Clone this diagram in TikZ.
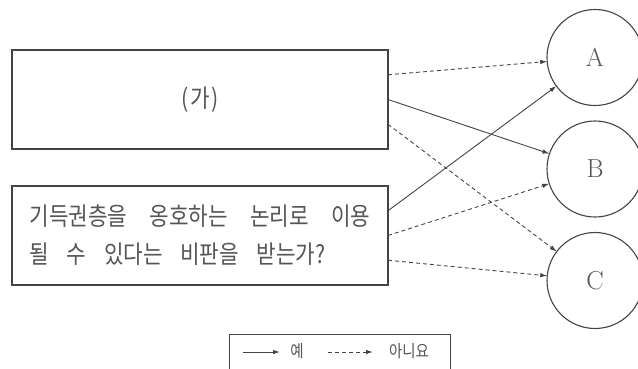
\documentclass[tikz,border=0pt]{standalone}
\usepackage{fontspec}
\newfontfamily\kr[FakeStretch=0.85]{Noto Sans CJK KR}
\usetikzlibrary{arrows.meta}
\definecolor{inkgray}{HTML}{444444}
\definecolor{textgray}{HTML}{555555}
\begin{document}
\begin{tikzpicture}[x=1pt,y=-1pt,
  every node/.style={outer sep=0pt, text=textgray},
  box/.style={draw=inkgray, line width=1.2pt, minimum width=376pt, minimum height=99pt, inner sep=0pt},
  choice/.style={draw=inkgray, line width=1.1pt, circle, minimum size=96pt, inner sep=0pt, font=\fontsize{26}{28}\selectfont},
  yes/.style={draw=inkgray, line width=0.9pt, -{Latex[length=7pt,width=4.5pt]}},
  no/.style={yes, dash pattern=on 4pt off 3pt}]
\useasboundingbox (0,0) rectangle (638,368);
% boxes
\node[box, font=\kr\fontsize{25}{25}\selectfont] (ga) at (200,99.5) {(\kern2pt 가\kern2pt)};
\node[box, align=left, font=\kr\fontsize{25}{38}\selectfont] (crit) at (200,235.5)
  {\makebox[341pt][s]{기득권층을 옹호하는 논리로 이용}\\\makebox[296pt][s]{될 수 있다는 비판을 받는가?}};
% circles
\node[choice] (A) at (595,57.5) {A};
\node[choice] (B) at (595,169) {B};
\node[choice] (C) at (595,280.5) {C};
% start points
\coordinate (ga1) at ([yshift=24.75pt]ga.east);
\coordinate (ga2) at (ga.east);
\coordinate (ga3) at ([yshift=-24.75pt]ga.east);
\coordinate (cr1) at ([yshift=24.75pt]crit.east);
\coordinate (cr2) at (crit.east);
\coordinate (cr3) at ([yshift=-24.75pt]crit.east);
% connectors
\draw[no] (ga1) -- (A);
\draw[yes] (ga2) -- (B);
\draw[no] (ga3) -- (C);
\draw[yes] (cr1) -- (A);
\draw[no] (cr2) -- (B);
\draw[no] (cr3) -- (C);
% legend
\node[draw=inkgray, line width=1pt, minimum width=221pt, minimum height=38pt, inner sep=0pt] (legend) at (339.5,353) {};
\coordinate (ys) at (243,352);
\coordinate (ye) at (280,352);
\node[font=\kr\fontsize{17}{18}\selectfont] (yeslbl) at (297,351) {예};
\coordinate (ns) at (328,352);
\coordinate (ne) at (373,352);
\node[font=\kr\fontsize{17}{18}\selectfont] (nolbl) at (409,351) {아니요};
\draw[yes] (ys) -- (ye);
\draw[no] (ns) -- (ne);
\end{tikzpicture}
\end{document}
